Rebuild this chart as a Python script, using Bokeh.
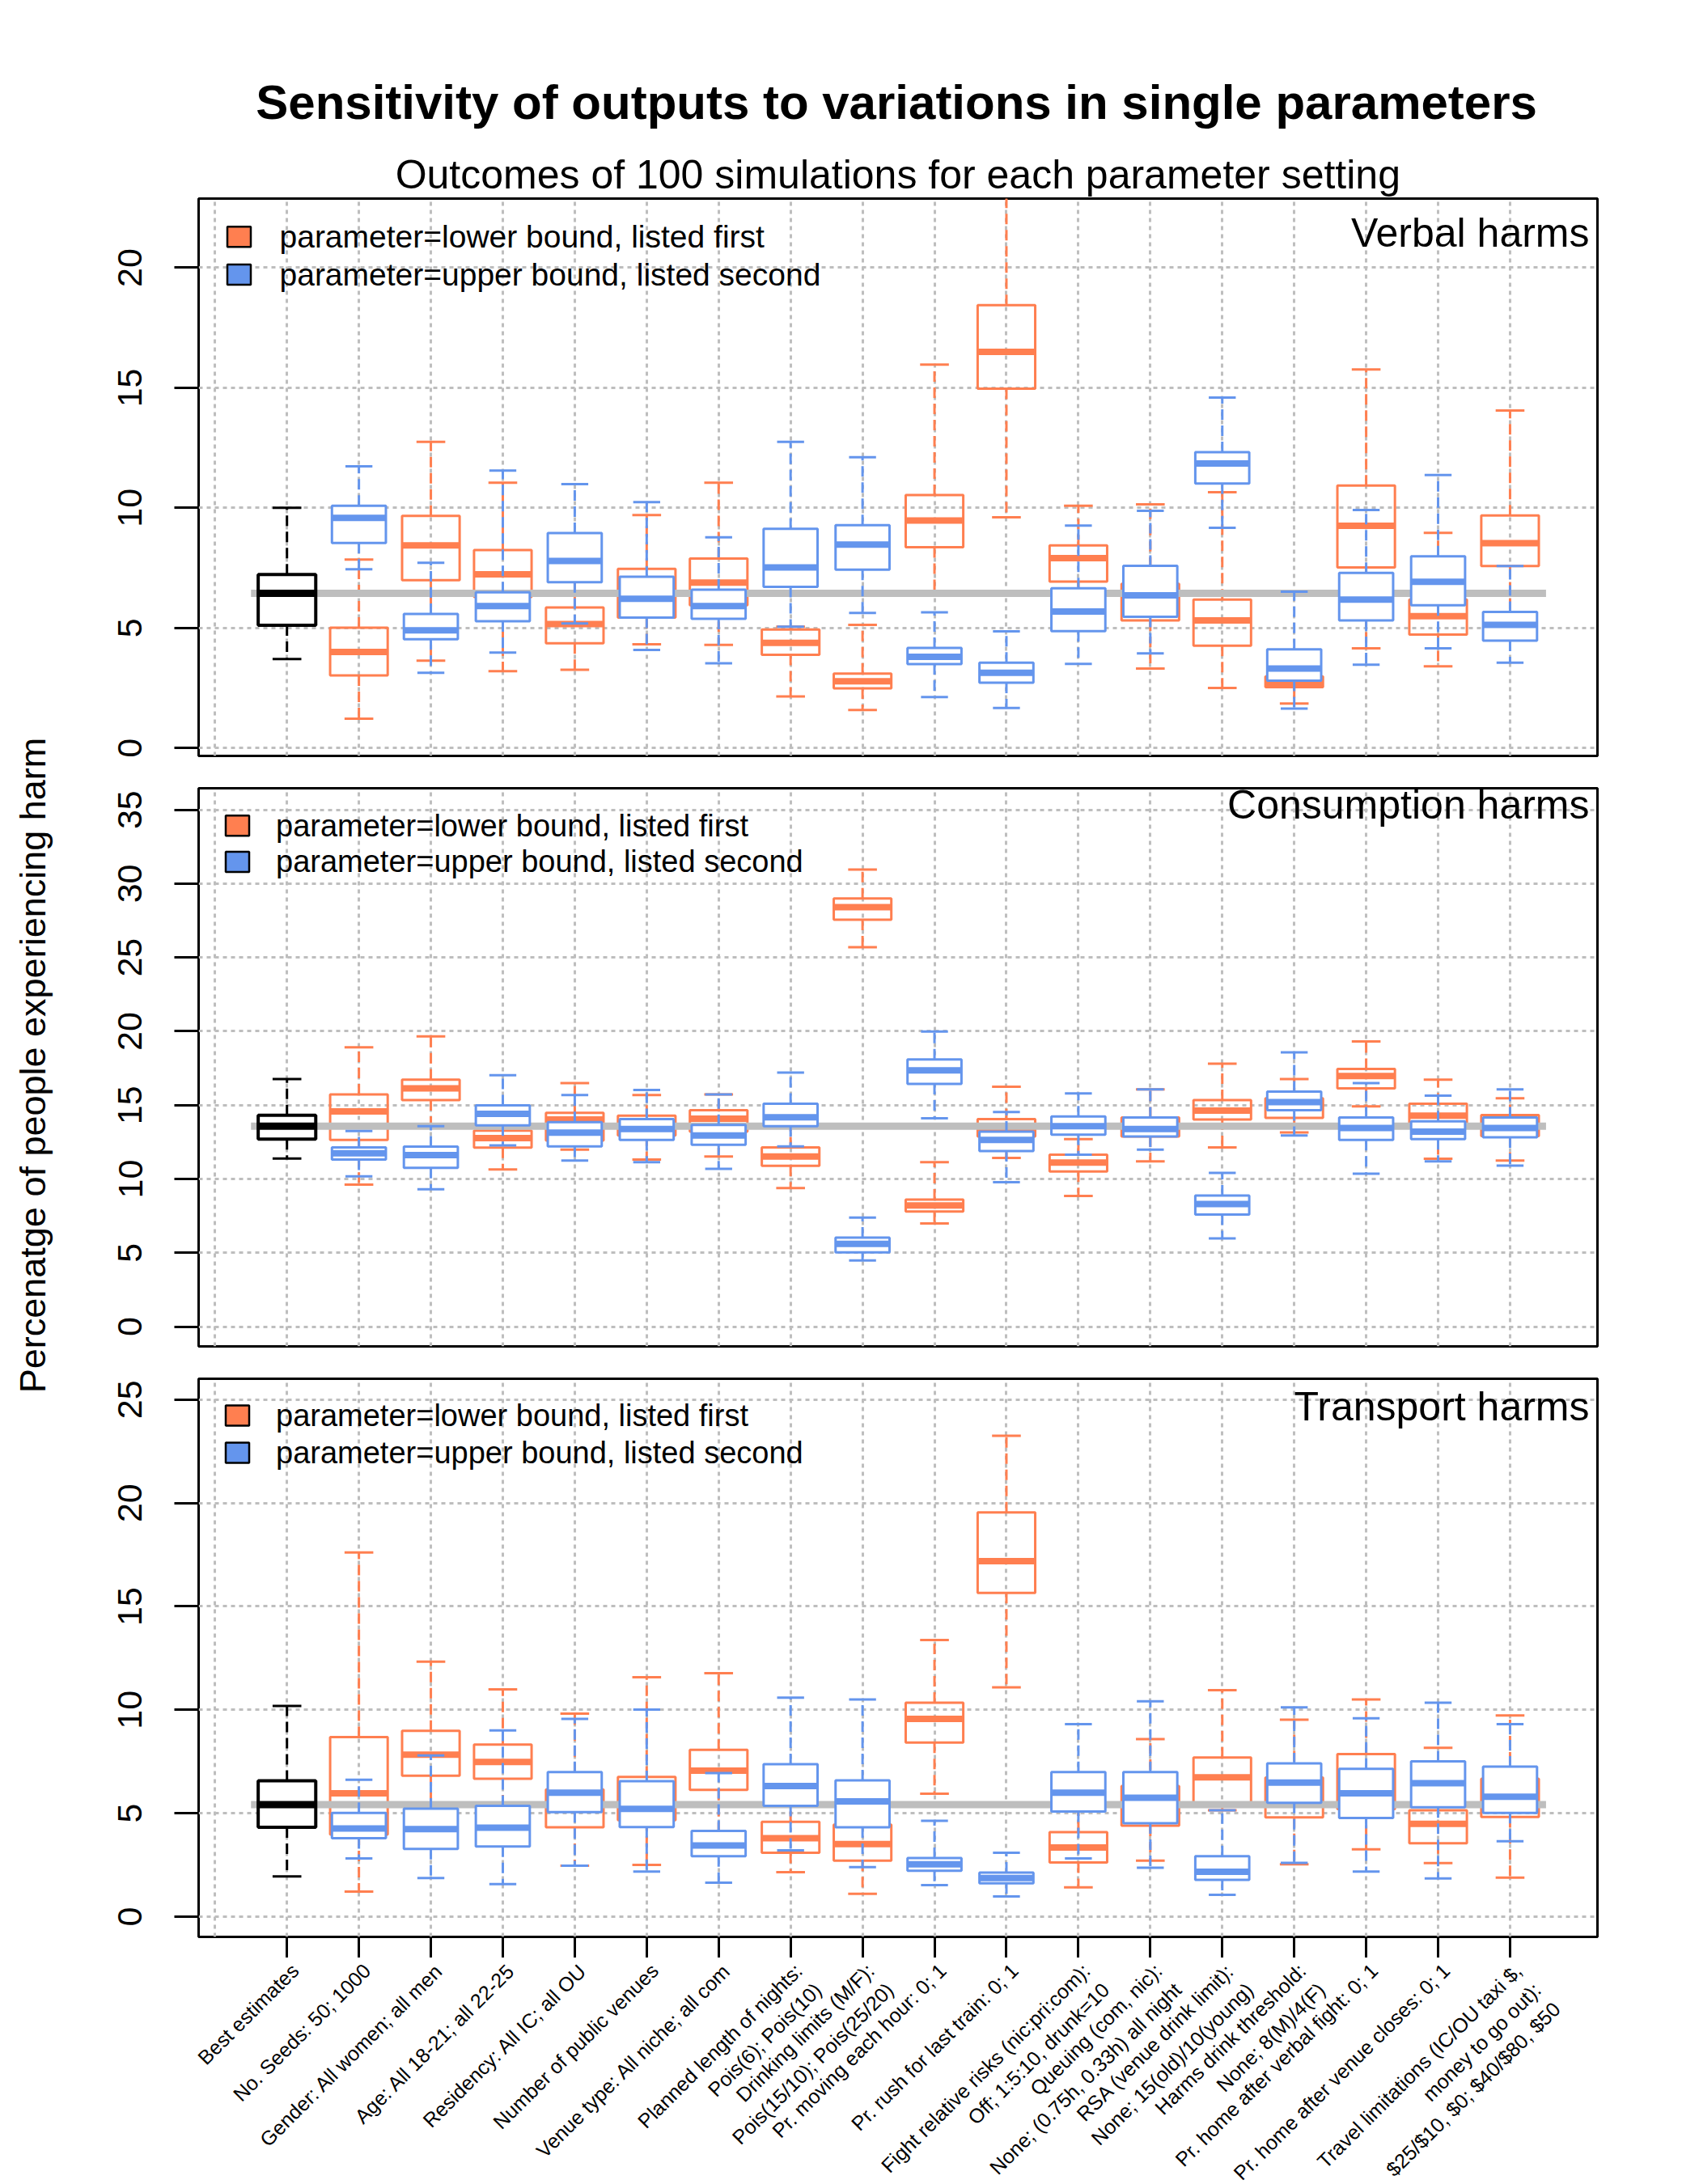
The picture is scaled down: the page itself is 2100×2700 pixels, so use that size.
import math
from bokeh.plotting import figure
from bokeh.models import Range1d, FixedTicker, Label, ColumnDataSource
from bokeh.layouts import column, row
from bokeh.embed import file_html
from bokeh.resources import INLINE

FONT = "Liberation Sans"
ORANGE = "#FF7F50"   # coral
BLUE = "#6495ED"     # cornflowerblue
GRAY = "#BEBEBE"

# ---------------- data ----------------
X_LABELS = [
    "Best estimates",
    "No. Seeds: 50; 1000",
    "Gender: All women; all men",
    "Age: All 18-21; all 22-25",
    "Residency: All IC; all OU",
    "Number of public venues",
    "Venue type: All niche; all com",
    "Planned length of nights:\nPois(6); Pois(10)",
    "Drinking limits (M/F):\nPois(15/10); Pois(25/20)",
    "Pr. moving each hour: 0; 1",
    "Pr. rush for last train: 0; 1",
    "Fight relative risks (nic:pri:com):\nOff; 1:5:10, drunk=10",
    "Queuing (com, nic):\nNone; (0.75h, 0.33h) all night",
    "RSA (venue drink limit):\nNone; 15(old)/10(young)",
    "Harms drink threshold:\nNone; 8(M)/4(F)",
    "Pr. home after verbal fight: 0; 1",
    "Pr. home after venue closes: 0; 1",
    "Travel limitations (IC/OU taxi $,\nmoney to go out):\n$25/$10, $0; $40/$80, $50",
]
X_BEST = [1]
X_PAIR = list(range(2, 19))

TITLE = "Sensitivity of outputs to variations in single parameters"
SUBTITLE = "Outcomes of 100 simulations for each parameter setting"
Y_TITLE = "Percenatge of people experiencing harm"
PANEL_NAMES = ["Verbal harms", "Consumption harms", "Transport harms"]
LEGEND_LABELS = ["parameter=lower bound, listed first", "parameter=upper bound, listed second"]

# best estimates: [lower whisker, Q1, median, Q3, upper whisker]
VERBAL_BEST = [3.70, 5.11, 6.44, 7.22, 10.00]
CONS_BEST = [11.39, 12.70, 13.58, 14.31, 16.77]
TRANS_BEST = [1.94, 4.32, 5.42, 6.57, 10.19]

VERBAL_LO_WLO = [1.22, 3.64, 3.20, 3.26, 4.32, 4.29, 2.15, 1.58, 6.36, 9.61, 5.60, 3.31, 2.50, 1.85, 4.15, 3.40, 5.00]
VERBAL_LO_Q1 = [3.02, 6.99, 6.29, 4.36, 5.43, 5.94, 3.88, 2.48, 8.36, 14.96, 6.93, 5.31, 4.26, 2.53, 7.52, 4.72, 7.58]
VERBAL_LO_MED = [4.00, 8.44, 7.23, 5.16, 6.50, 6.89, 4.38, 2.78, 9.47, 16.50, 7.91, 6.10, 5.31, 2.72, 9.25, 5.49, 8.53]
VERBAL_LO_Q3 = [5.01, 9.67, 8.24, 5.85, 7.46, 7.89, 4.93, 3.10, 10.53, 18.44, 8.44, 6.84, 6.18, 2.98, 10.93, 6.18, 9.68]
VERBAL_LO_WHI = [7.85, 12.75, 11.05, 7.20, 9.70, 11.05, 5.05, 5.13, 15.97, 23.50, 10.09, 10.15, 10.65, 3.80, 15.76, 8.96, 14.05]

VERBAL_HI_WLO = [7.44, 3.13, 3.97, 5.19, 4.08, 3.53, 5.05, 5.62, 2.12, 1.67, 3.50, 3.94, 9.17, 1.64, 3.47, 4.15, 3.55]
VERBAL_HI_Q1 = [8.54, 4.53, 5.28, 6.90, 5.43, 5.38, 6.71, 7.43, 3.49, 2.72, 4.87, 5.46, 11.01, 2.80, 5.31, 5.94, 4.47]
VERBAL_HI_MED = [9.58, 4.90, 5.91, 7.79, 6.21, 5.91, 7.52, 8.47, 3.80, 3.13, 5.68, 6.36, 11.85, 3.31, 6.18, 6.92, 5.13]
VERBAL_HI_Q3 = [10.09, 5.58, 6.48, 8.95, 7.13, 6.59, 9.13, 9.28, 4.17, 3.55, 6.65, 7.59, 12.32, 4.11, 7.29, 7.98, 5.67]
VERBAL_HI_WHI = [11.73, 7.71, 11.55, 10.99, 10.24, 8.77, 12.75, 12.11, 5.65, 4.86, 9.26, 9.88, 14.59, 6.51, 9.91, 11.37, 7.58]

CONS_LO_WLO = [9.61, 13.58, 10.64, 11.99, 11.32, 11.52, 9.38, 25.70, 6.99, 11.42, 8.85, 11.19, 12.14, 13.15, 14.91, 11.37, 11.24]
CONS_LO_Q1 = [12.65, 15.34, 12.12, 12.60, 12.95, 13.20, 10.89, 27.56, 7.79, 12.87, 10.51, 12.87, 14.03, 14.13, 16.14, 13.45, 12.90]
CONS_LO_MED = [14.58, 16.14, 12.77, 14.03, 13.60, 14.08, 11.52, 28.41, 8.20, 13.45, 11.11, 13.40, 14.63, 14.90, 16.97, 14.28, 13.60]
CONS_LO_Q3 = [15.72, 16.72, 13.28, 14.48, 14.28, 14.66, 12.14, 28.99, 8.60, 14.06, 11.64, 14.16, 15.34, 15.46, 17.45, 15.09, 14.33]
CONS_LO_WHI = [18.91, 19.66, 14.30, 16.49, 15.69, 15.72, 13.90, 30.95, 11.14, 16.24, 12.70, 16.07, 17.80, 16.77, 19.31, 16.72, 15.46]

CONS_HI_WLO = [10.18, 9.30, 12.27, 11.24, 11.14, 10.69, 12.20, 4.48, 14.11, 9.78, 11.64, 11.99, 5.98, 12.95, 10.36, 11.19, 10.91]
CONS_HI_Q1 = [11.32, 10.76, 13.63, 12.20, 12.65, 12.32, 13.58, 5.03, 16.44, 11.89, 13.00, 12.87, 7.59, 14.66, 12.65, 12.70, 12.82]
CONS_HI_MED = [11.74, 11.62, 14.41, 13.13, 13.38, 12.95, 14.18, 5.61, 17.35, 12.65, 13.58, 13.38, 8.30, 15.21, 13.45, 13.20, 13.45]
CONS_HI_Q3 = [12.14, 12.19, 14.99, 13.85, 14.06, 13.65, 15.09, 6.03, 18.10, 13.20, 14.23, 14.16, 8.88, 15.92, 14.16, 13.90, 14.16]
CONS_HI_WHI = [13.25, 13.58, 17.02, 15.69, 16.02, 15.72, 17.20, 7.39, 19.99, 14.53, 15.79, 16.07, 10.41, 18.58, 16.49, 15.64, 16.07]

TRANS_LO_WLO = [1.21, 4.50, 4.50, 2.46, 2.50, 4.00, 2.15, 1.10, 5.94, 11.09, 1.42, 2.71, 5.14, 2.53, 3.25, 2.59, 1.89]
TRANS_LO_Q1 = [3.97, 6.81, 6.67, 4.32, 4.66, 6.13, 3.09, 2.71, 8.42, 15.65, 2.62, 4.40, 5.38, 4.80, 5.20, 3.55, 4.82]
TRANS_LO_MED = [5.96, 7.83, 7.48, 5.50, 5.50, 7.06, 3.79, 3.51, 9.56, 17.19, 3.34, 5.60, 6.74, 5.90, 6.80, 4.49, 5.70]
TRANS_LO_Q3 = [8.68, 8.98, 8.32, 6.15, 6.76, 8.07, 4.58, 4.45, 10.34, 19.55, 4.09, 6.32, 7.69, 6.73, 7.86, 5.14, 6.67]
TRANS_LO_WHI = [17.61, 12.33, 10.99, 9.82, 11.58, 11.77, 5.80, 5.00, 13.38, 23.25, 5.50, 8.58, 10.95, 9.52, 10.50, 8.16, 9.73]

TRANS_HI_WLO = [2.81, 1.87, 1.57, 2.46, 2.18, 1.64, 3.21, 2.39, 1.52, 0.98, 2.81, 2.36, 1.05, 2.60, 2.18, 1.85, 3.65]
TRANS_HI_Q1 = [3.79, 3.27, 3.39, 5.05, 4.33, 2.92, 5.36, 4.32, 2.22, 1.61, 5.08, 4.52, 1.78, 5.50, 4.77, 5.29, 5.01]
TRANS_HI_MED = [4.26, 4.23, 4.30, 5.99, 5.21, 3.44, 6.32, 5.57, 2.53, 1.87, 5.99, 5.75, 2.17, 6.48, 5.96, 6.45, 5.80]
TRANS_HI_Q3 = [5.01, 5.22, 5.36, 6.99, 6.55, 4.14, 7.37, 6.59, 2.83, 2.13, 6.99, 6.99, 2.92, 7.41, 7.15, 7.51, 7.25]
TRANS_HI_WHI = [6.62, 7.79, 9.00, 9.56, 10.01, 6.94, 10.59, 10.50, 4.63, 3.09, 9.31, 10.41, 5.14, 10.12, 9.59, 10.34, 9.31]

VERBAL_YTICKS = [0, 5, 10, 15, 20]
CONS_YTICKS = [0, 5, 10, 15, 20, 25, 30, 35]
TRANS_YTICKS = [0, 5, 10, 15, 20, 25]

# ---------------- layout constants ----------------
W = 2092            # full page width used
YT_W = 100          # width of the strip holding the y-axis title
LEFT = 245          # page x of the panels' frame left edge
FRAME_W = 1729
PW = W - YT_W       # width of the panel figures
RIGHT = W - LEFT - FRAME_W
X_START, X_END = -0.228, 19.215
PX_PER_X = FRAME_W / (X_END - X_START)
TICK = 26
H0, H1, H2, H3, H4 = 243, 711, 730, 710 + TICK, 279


def xdata(page_px):
    return X_START + (page_px - LEFT) / PX_PER_X


def no_align(p):
    if "frame_align" in p.properties():
        p.frame_align = False


def blank_fig(width, height, x_range):
    """Frame-only figure (no axes); y measured in px from its top edge."""
    p = figure(width=width, height=height,
               x_range=x_range, y_range=Range1d(height, 0),
               output_backend="svg", toolbar_location=None, tools="",
               x_axis_location=None, y_axis_location=None,
               min_border_left=0, min_border_right=0, min_border_top=0, min_border_bottom=0)
    p.outline_line_color = None
    p.grid.visible = False
    p.background_fill_color = "white"
    p.border_fill_color = "white"
    no_align(p)
    return p


def make_fig(height, ylo, yhi, top, bottom, yticks, with_xaxis):
    p = figure(width=PW, height=height,
               x_range=Range1d(X_START, X_END), y_range=Range1d(ylo, yhi),
               output_backend="svg", toolbar_location=None, tools="",
               x_axis_location="below" if with_xaxis else None,
               min_border_left=LEFT - YT_W, min_border_right=RIGHT,
               min_border_top=top, min_border_bottom=bottom)
    p.outline_line_color = "black"
    p.outline_line_width = 3
    p.outline_line_alpha = 1.0
    p.background_fill_color = "white"
    p.border_fill_color = "white"
    p.xgrid.ticker = FixedTicker(ticks=list(range(0, 19)))
    p.ygrid.ticker = FixedTicker(ticks=yticks)
    for g in (p.xgrid[0], p.ygrid[0]):
        g.grid_line_color = GRAY
        g.grid_line_width = 3
        g.grid_line_dash = "5 5"
    ya = p.yaxis[0]
    ya.ticker = FixedTicker(ticks=yticks)
    ya.major_label_orientation = "vertical"
    ya.major_label_text_font = FONT
    ya.major_label_text_font_size = "43px"
    ya.major_label_text_color = "black"
    ya.major_label_standoff = 40
    ya.major_tick_out = 30
    ya.major_tick_in = 0
    ya.major_tick_line_width = 3
    ya.major_tick_line_color = "black"
    ya.minor_tick_out = 0
    ya.minor_tick_in = 0
    ya.axis_line_color = None
    if with_xaxis:
        xa = p.xaxis[0]
        xa.ticker = FixedTicker(ticks=list(range(1, 19)))
        xa.major_label_overrides = {i: "" for i in range(1, 19)}
        xa.major_label_text_font_size = "0px"
        xa.major_label_standoff = 0
        xa.major_tick_out = TICK
        xa.major_tick_in = 0
        xa.major_tick_line_width = 3
        xa.major_tick_line_color = "black"
        xa.minor_tick_out = 0
        xa.minor_tick_in = 0
        xa.axis_line_color = None
    return p


def draw_boxes(p, xs, wlo, q1, med, q3, whi, color, width, fill, box_lw, med_lw):
    half = width / 2.0
    cap = width / 4.0
    src = ColumnDataSource(dict(
        x=xs, left=[x - half for x in xs], right=[x + half for x in xs],
        cl=[x - cap for x in xs], cr=[x + cap for x in xs],
        wlo=wlo, q1=q1, med=med, q3=q3, whi=whi))
    p.segment(x0="x", y0="q3", x1="x", y1="whi", source=src,
              line_color=color, line_width=3, line_dash="13 7")
    p.segment(x0="x", y0="q1", x1="x", y1="wlo", source=src,
              line_color=color, line_width=3, line_dash="13 7")
    p.segment(x0="cl", y0="whi", x1="cr", y1="whi", source=src,
              line_color=color, line_width=3)
    p.segment(x0="cl", y0="wlo", x1="cr", y1="wlo", source=src,
              line_color=color, line_width=3)
    p.quad(left="left", right="right", bottom="q1", top="q3", source=src,
           fill_color=fill, line_color=color, line_width=box_lw)
    p.segment(x0="left", y0="med", x1="right", y1="med", source=src,
              line_color=color, line_width=med_lw)


def panel(p, best, lo, hi):
    draw_boxes(p, X_PAIR, *lo, color=ORANGE, width=0.8, fill=None, box_lw=3, med_lw=8)
    # reference line at the best-estimate median
    p.segment(x0=[0.5], y0=[best[2]], x1=[18.5], y1=[best[2]],
              line_color=GRAY, line_width=9)
    draw_boxes(p, X_PAIR, *hi, color=BLUE, width=0.75, fill="white", box_lw=3, med_lw=8)
    draw_boxes(p, X_BEST, *[[v] for v in best], color="black", width=0.8,
               fill="white", box_lw=4, med_lw=9)


def legend(p, sq_x, txt_x, ys, size):
    colors = [ORANGE, BLUE]
    p.rect(x=[sq_x, sq_x], y=ys, width=29, height=25, width_units="screen",
           height_units="screen", fill_color=colors, line_color="black", line_width=2.5)
    for y, t in zip(ys, LEGEND_LABELS):
        p.add_layout(Label(x=txt_x, y=y, text=t, text_font=FONT, text_font_size=size,
                           text_baseline="middle", text_align="left", text_color="black"))


def panel_name(p, name, y):
    p.add_layout(Label(x=xdata(1964), y=y, text=name, text_font=FONT, text_font_size="50px",
                       text_align="right", text_baseline="middle", text_color="black"))


# ---------------- header (title, subtitle) ----------------
f0 = blank_fig(W, H0, Range1d(xdata(0), xdata(W)))
f0.add_layout(Label(x=xdata(1107.6), y=125.7, text=TITLE,
                    text_font=FONT, text_font_size="60px", text_font_style="bold",
                    text_align="center", text_baseline="middle", text_color="black"))
f0.add_layout(Label(x=xdata(1109.3), y=215, text=SUBTITLE,
                    text_font=FONT, text_font_size="50px",
                    text_align="center", text_baseline="middle", text_color="black"))

# ---------------- panels ----------------
f1 = make_fig(H1, -0.33, 22.88, 2, 20, VERBAL_YTICKS, False)
panel(f1, VERBAL_BEST,
      [VERBAL_LO_WLO, VERBAL_LO_Q1, VERBAL_LO_MED, VERBAL_LO_Q3, VERBAL_LO_WHI],
      [VERBAL_HI_WLO, VERBAL_HI_Q1, VERBAL_HI_MED, VERBAL_HI_Q3, VERBAL_HI_WHI])
legend(f1, xdata(295), xdata(345), [21.29, 19.71], "39px")
panel_name(f1, PANEL_NAMES[0], 21.44)

f2 = make_fig(H2, -1.34, 36.46, 20, 20, CONS_YTICKS, False)
panel(f2, CONS_BEST,
      [CONS_LO_WLO, CONS_LO_Q1, CONS_LO_MED, CONS_LO_Q3, CONS_LO_WHI],
      [CONS_HI_WLO, CONS_HI_Q1, CONS_HI_MED, CONS_HI_Q3, CONS_HI_WHI])
legend(f2, xdata(293), xdata(340.5), [33.93, 31.48], "38px")
panel_name(f2, PANEL_NAMES[1], 35.35)

f3 = make_fig(H3, -0.98, 26.01, 20, TICK, TRANS_YTICKS, True)
panel(f3, TRANS_BEST,
      [TRANS_LO_WLO, TRANS_LO_Q1, TRANS_LO_MED, TRANS_LO_Q3, TRANS_LO_WHI],
      [TRANS_HI_WLO, TRANS_HI_Q1, TRANS_HI_MED, TRANS_HI_Q3, TRANS_HI_WHI])
legend(f3, xdata(293), xdata(340.5), [24.23, 22.43], "38px")
panel_name(f3, PANEL_NAMES[2], 24.66)

# ---------------- y-axis title strip ----------------
fy = blank_fig(YT_W, H1 + H2 + H3, Range1d(0, YT_W))
fy.add_layout(Label(x=39.6, y=1316.5 - H0, text=Y_TITLE, text_font=FONT,
                    text_font_size="45px", angle=90, angle_units="deg",
                    text_align="center", text_baseline="middle", text_color="black"))

# ---------------- category labels below the bottom panel ----------------
f4 = blank_fig(W, H4, Range1d(xdata(0), xdata(W)))
for i, lab in enumerate(X_LABELS):
    f4.add_layout(Label(x=i + 1, y=1.5, text=lab, text_font=FONT, text_font_size="25px",
                        angle=45, angle_units="deg", text_align="right",
                        text_baseline="top", text_color="black"))

layout = column(f0, row(fy, column(f1, f2, f3)), f4)
open("out.html", "w").write(file_html(layout, INLINE))
